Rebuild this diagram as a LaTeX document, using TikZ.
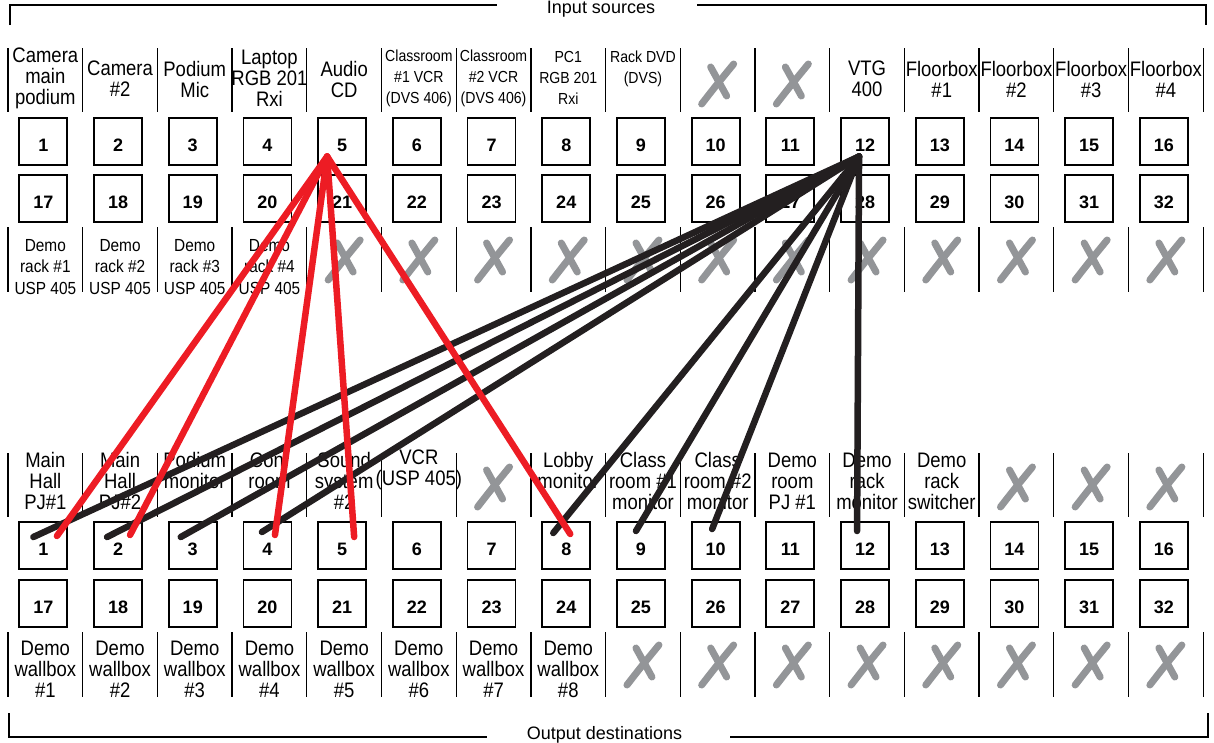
\documentclass[tikz,border=0pt]{standalone}
\usepackage{fontspec}
\setmainfont{Liberation Sans}
\newfontfamily\lblfont[FakeStretch=0.88]{Liberation Sans}
\definecolor{xgray}{RGB}{147,149,152}
\definecolor{wred}{RGB}{237,28,36}
\definecolor{wblack}{RGB}{35,31,32}
\tikzset{
  numbox/.style={draw, line width=1.8pt, minimum width=48pt, minimum height=47pt, inner sep=0pt,
     text height=19pt, text depth=0pt, font=\bfseries\fontsize{18}{18}\selectfont},
  lbl/.style={align=center, inner sep=0pt, font=\lblfont\fontsize{21}{21}\selectfont},
  mlbl/.style={align=center, inner sep=0pt, font=\lblfont\fontsize{17.5}{21.5}\selectfont},
  slbl/.style={align=center, inner sep=0pt, font=\lblfont\fontsize{16}{21}\selectfont},
  sepline/.style={line width=1.3pt},
  xmark/.style={line width=7pt, color=xgray, line cap=round},
  wire/.style={line width=6.5pt, line cap=round},
  redwire/.style={wire, color=wred},
  blackwire/.style={wire, color=wblack},
  bracket/.style={line width=2.6pt},
  title/.style={inner sep=0pt, font=\fontsize{18}{18}\selectfont},
  xmk/.pic={
    \draw[xmark] (-16,20) .. controls (-2,2) .. (16,-20);
    \draw[xmark] (-7,-17) -- (9,12);
  }
}
\begin{document}
\begin{tikzpicture}[x=1pt,y=-1pt]
\useasboundingbox (0,0) rectangle (1214,742);

% separators
\foreach \k in {0,...,16} {
  \draw[sepline] ({8+74.7*\k},48) -- ({8+74.7*\k},112);
  \draw[sepline] ({8+74.7*\k},227) -- ({8+74.7*\k},292);
  \draw[sepline] ({8+74.7*\k},453) -- ({8+74.7*\k},517);
  \draw[sepline] ({8+74.7*\k},632) -- ({8+74.7*\k},697);
}

% top labels, row 1
\foreach \i/\t/\y in {1/{Camera\\main\\podium}/78, 2/{Camera\\\#2}/79, 3/{Podium\\Mic}/79,
   4/{Laptop\\RGB 201\\Rxi}/78, 5/{Audio\\CD}/79, 12/{VTG\\400}/79,
   13/{Floorbox\\\#1}/79, 14/{Floorbox\\\#2}/79, 15/{Floorbox\\\#3}/79, 16/{Floorbox\\\#4}/79}
  \node[lbl] (tl\i) at ({8+74.7*(\i-0.5)},\y) {\t};
\foreach \i/\t/\y in {6/{Classroom\\\#1 VCR\\(DVS 406)}/78, 7/{Classroom\\\#2 VCR\\(DVS 406)}/78,
   8/{PC1\\RGB 201\\Rxi}/78, 9/{Rack DVD\\(DVS)}/69}
  \node[slbl] (tl\i) at ({8+74.7*(\i-0.5)},\y) {\t};
\foreach \i in {10,11}
  \pic at ({8+74.7*(\i-0.5)},84) {xmk};

% top labels, row 2
\foreach \i in {1,...,4}
  \node[mlbl] (tm\i) at ({8+74.7*(\i-0.5)},267) {Demo\\rack \#\i\\USP 405};
\foreach \i in {5,...,16}
  \pic at ({8+74.7*(\i-0.5)},260) {xmk};

% bottom labels, row 1
\foreach \i/\t/\y in {1/{Main\\Hall\\PJ\#1}/481, 2/{Main\\Hall\\PJ\#2}/481, 3/{Podium\\monitor}/470,
   4/{Conf\\room}/470, 5/{Sound\\system\\\#2}/481, 6/{VCR\\(USP 405)}/470, 8/{Lobby\\monitor}/470,
   9/{Class\\room \#1\\monitor}/481, 10/{Class\\room \#2\\monitor}/481, 11/{Demo\\room\\PJ \#1}/481,
   12/{Demo\\rack\\monitor}/481, 13/{Demo\\rack\\switcher}/481}
  \node[lbl] (bl\i) at ({8+74.7*(\i-0.5)},\y) {\t};
\foreach \i in {7,14,15,16}
  \pic at ({8+74.7*(\i-0.5)},487) {xmk};

% bottom labels, row 2
\foreach \i in {1,...,8}
  \node[lbl] (bm\i) at ({8+74.7*(\i-0.5)},669) {Demo\\wallbox\\\#\i};
\foreach \i in {9,...,16}
  \pic at ({8+74.7*(\i-0.5)},665) {xmk};

% number boxes
\foreach \i in {1,...,16} {
  \pgfmathtruncatemacro\j{\i+16}
  \node[numbox] (in\i) at ({8+74.7*(\i-0.5)-2},141.5) {\i};
  \node[numbox] (in\j) at ({8+74.7*(\i-0.5)-2},198.5) {\j};
  \node[numbox] (out\i) at ({8+74.7*(\i-0.5)-2},545.5) {\i};
  \node[numbox] (out\j) at ({8+74.7*(\i-0.5)-2},603.5) {\j};
}

% black connections from input 12
\foreach \o/\dx/\dy in {1/-10/-8.5, 2/-11/-8.5, 3/-12/-8.5, 4/-5.5/-13.5, 8/-13/-12.5,
   9/-5/-14.5, 10/-3.5/-16.5, 12/-8/-14.5}
  \draw[blackwire] ([shift={(-6,15)}]in12.center) -- ([shift={(\dx,\dy)}]out\o.center);

% red connections from input 5
\foreach \o/\dx/\dy in {1/13.6/-9.5, 2/12/-10.5, 4/7.5/-10.5, 5/12/-8.5, 8/4/-11.5}
  \draw[redwire] ([shift={(-15,15)}]in5.center) -- ([shift={(\dx,\dy)}]out\o.center);

% brackets and titles
\node[title, anchor=base] (intitle) at (601,13) {Input sources};
\draw[bracket] (10,25) -- (10,5) -- (497,5);
\draw[bracket] (697,5) -- (1206,5) -- (1206,25);
\node[title, anchor=base] (outtitle) at (604.5,739) {Output destinations};
\draw[bracket] (9,713) -- (9,737) -- (487,737);
\draw[bracket] (730,737) -- (1208,737) -- (1208,713);
\end{tikzpicture}
\end{document}
